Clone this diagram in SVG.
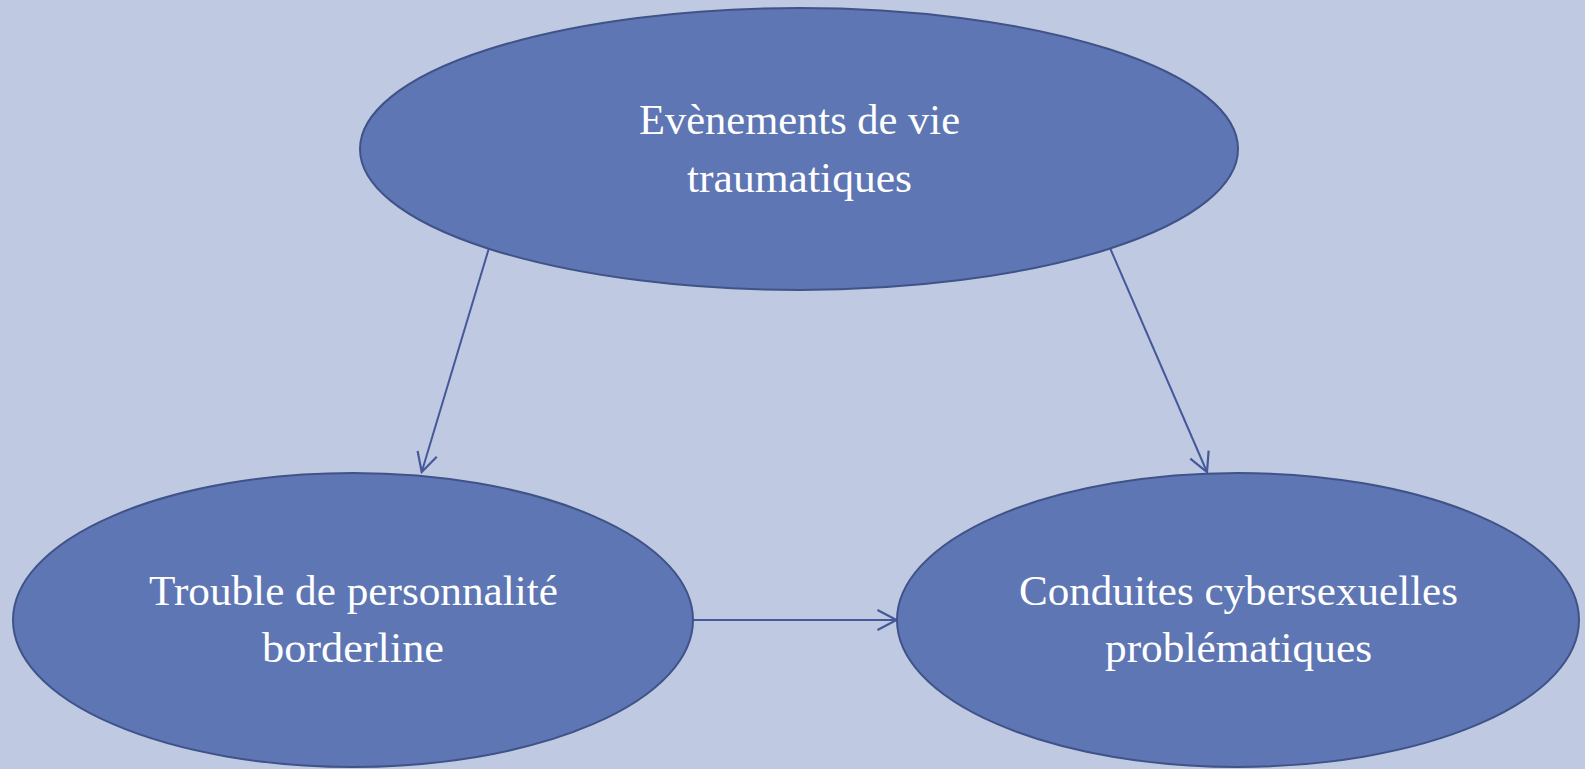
<svg xmlns="http://www.w3.org/2000/svg" width="1585" height="769" viewBox="0 0 1585 769">
<style>
.node{fill:#5E76B3;stroke:#3F5389;stroke-width:2}
.lbl{fill:#FFFFFF;font-family:"Liberation Serif","DejaVu Serif",serif;font-size:42px;text-anchor:middle}
.conn{fill:none;stroke:#44589A;stroke-width:2}
</style>
<defs>
<marker id="arr" markerUnits="userSpaceOnUse" markerWidth="30" markerHeight="30" viewBox="-25 -15 30 30" refX="0" refY="0" orient="auto">
<path d="M -19 -10 L 0 0 L -19 10" fill="none" stroke="#44589A" stroke-width="2.2" stroke-linejoin="miter"/>
</marker>
</defs>
<rect x="0" y="0" width="1585" height="769" fill="#BFC9E1"/>
<g id="connectors">
<line class="conn" x1="489" y1="248" x2="421.7" y2="472" marker-end="url(#arr)"/>
<line class="conn" x1="1110" y1="248" x2="1207" y2="472" marker-end="url(#arr)"/>
<line class="conn" x1="693" y1="620" x2="896.5" y2="620" marker-end="url(#arr)"/>
</g>
<g id="node-evenements">
<ellipse class="node" cx="799" cy="149" rx="439" ry="141"/>
<text class="lbl" x="799.5" y="134" textLength="321" lengthAdjust="spacingAndGlyphs">Evènements de vie</text>
<text class="lbl" x="799.5" y="192" textLength="225" lengthAdjust="spacingAndGlyphs">traumatiques</text>
</g>
<g id="node-borderline">
<ellipse class="node" cx="353" cy="620" rx="340" ry="147"/>
<text class="lbl" x="353.5" y="605" textLength="409" lengthAdjust="spacingAndGlyphs">Trouble de personnalité</text>
<text class="lbl" x="353" y="662" textLength="182" lengthAdjust="spacingAndGlyphs">borderline</text>
</g>
<g id="node-conduites">
<ellipse class="node" cx="1238" cy="620" rx="341" ry="147"/>
<text class="lbl" x="1238.5" y="605" textLength="439" lengthAdjust="spacingAndGlyphs">Conduites cybersexuelles</text>
<text class="lbl" x="1238.5" y="662" textLength="267" lengthAdjust="spacingAndGlyphs">problématiques</text>
</g>
</svg>
